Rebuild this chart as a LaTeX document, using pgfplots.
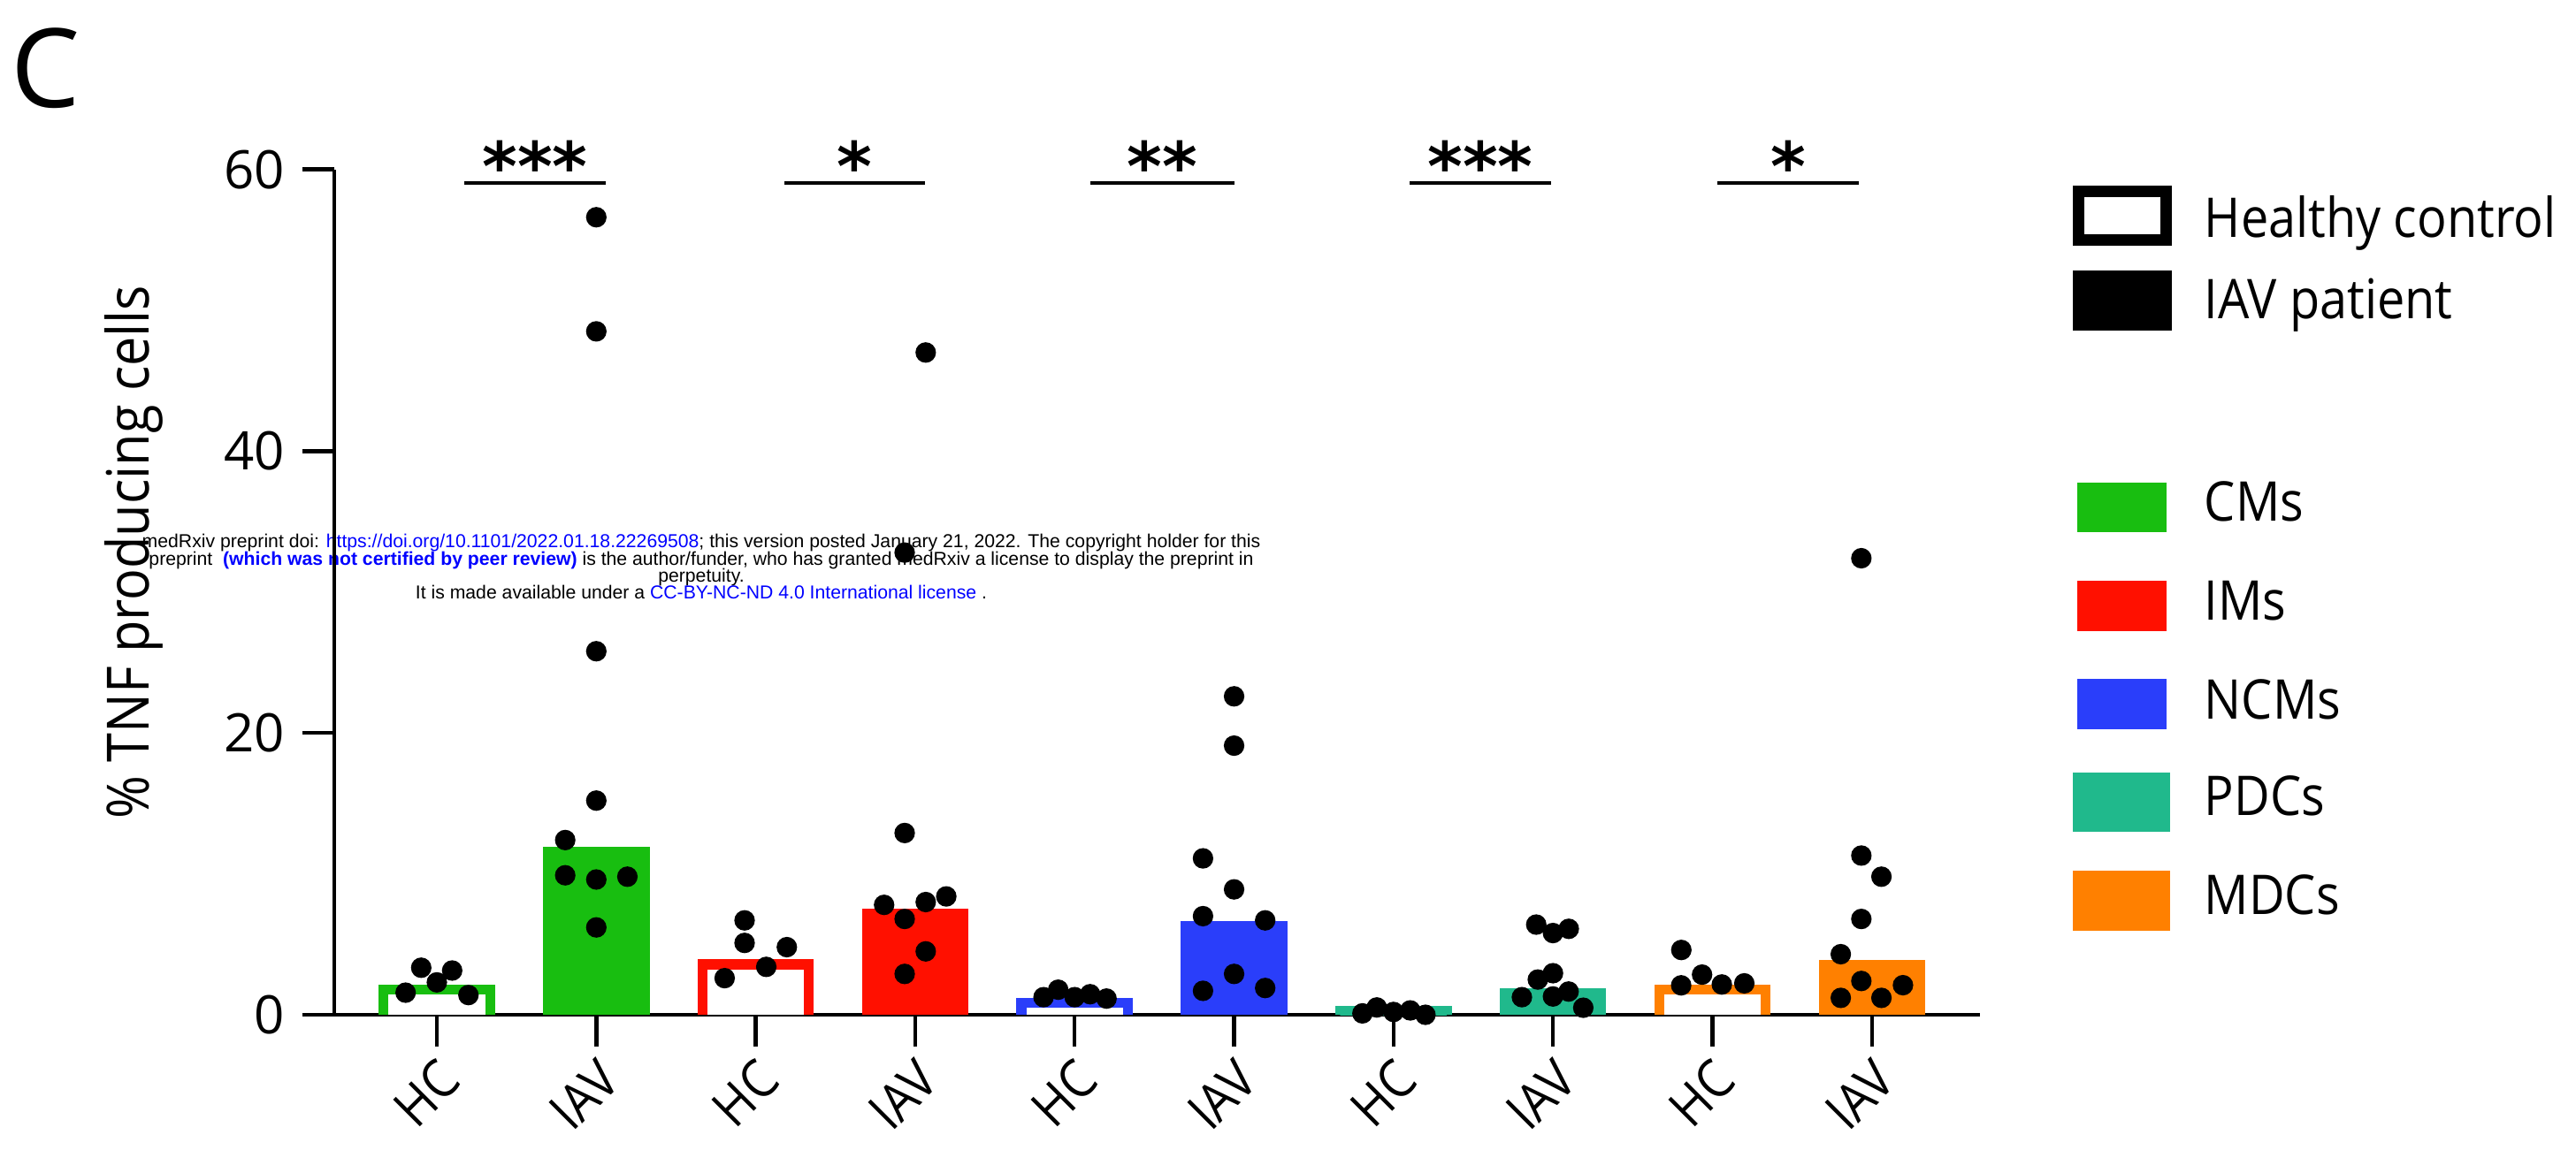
\documentclass[border=0pt]{standalone}
\usepackage{fontspec}
\setmainfont{Open Sans}
\newfontfamily\narrowsans[FakeStretch=0.9]{Open Sans}
\newfontfamily\noticefont{Liberation Sans}
\newfontfamily\starfont{DejaVu Sans}
\usepackage{pgfplots}
\pgfplotsset{compat=1.18}

\definecolor{cmgreen}{RGB}{24,190,16}
\definecolor{imred}{RGB}{255,16,0}
\definecolor{ncmblue}{RGB}{42,62,250}
\definecolor{pdcteal}{RGB}{32,185,140}
\definecolor{mdcorange}{RGB}{255,128,0}
\definecolor{linkblue}{RGB}{0,0,255}

\pgfplotsset{
  % open-bottomed outline bar for healthy controls
  hcbar/.style={draw=#1, fill=white, line width=2.8pt, line join=miter, mark=none},
  iavbar/.style={ybar, bar width=0.668, bar shift=0pt, fill=#1, draw=none},
  dots/.style={only marks, mark=*, mark size=2.7pt, black, mark options={fill=black, draw=black}},
  sig/.style={black, line width=1pt, mark=none},
}

\begin{document}
\begin{tikzpicture}
% page frame: 2913 x 1300 px at 0.25pt per px
\path[use as bounding box] (0,0) rectangle (728.25pt,-325pt);

% preprint notice, drawn first so the plot lies over it
\begin{scope}[x=0.25pt,y=-0.25pt]
  \begin{scope}[every node/.style={anchor=base, inner sep=0pt, font=\noticefont\fontsize{5.3}{6}\selectfont}]
    \node at (793,619) {medRxiv preprint doi: \textcolor{linkblue}{https://doi.org/10.1101/2022.01.18.22269508}; this version posted January 21, 2022. The copyright holder for this};
    \node at (793,639) {preprint \ \textcolor{linkblue}{\bfseries (which was not certified by peer review)} is the author/funder, who has granted medRxiv a license to display the preprint in};
    \node at (793,658) {perpetuity.};
    \node at (793,677) {It is made available under a \textcolor{linkblue}{CC-BY-NC-ND 4.0 International license} .};
  \end{scope}
\end{scope}

\begin{axis}[
  at={(94.5pt,-287pt)}, anchor=south west,
  scale only axis, width=465.25pt, height=239.125pt,
  xmin=-0.6434, xmax=9.678, ymin=0, ymax=60,
  clip=false,
  axis x line*=bottom, axis y line*=left,
  axis line style={line width=1.15pt, black},
  every tick/.style={line width=1.1pt, black},
  tick align=outside,
  major tick length=9pt,
  ytick={0,20,40,60},
  xtick={0,...,9},
  xticklabels={HC,IAV,HC,IAV,HC,IAV,HC,IAV,HC,IAV},
  /pgf/number format/assume math mode=true,
  yticklabel style={font=\fontsize{15}{15}\selectfont, anchor=east, inner sep=0pt, xshift=-4.75pt},
  xticklabel style={font=\narrowsans\fontsize{15}{15}\selectfont, xshift=3.75pt, yshift=-6.5pt, rotate=45, anchor=east, inner sep=0pt},
  ylabel={\% TNF producing cells},
  ylabel style={at={(axis description cs:-0.1128,0.547)}, anchor=base, font=\narrowsans\fontsize{16.5}{16.5}\selectfont},
]
% CMs
\addplot[hcbar=cmgreen] coordinates {(-0.334,0) (-0.334,1.78) (0.334,1.78) (0.334,0)};
\addplot[iavbar=cmgreen] coordinates {(1,11.92)};
% IMs
\addplot[hcbar=imred] coordinates {(1.666,0) (1.666,3.58) (2.334,3.58) (2.334,0)};
\addplot[iavbar=imred] coordinates {(3,7.51)};
% NCMs
\addplot[hcbar=ncmblue] coordinates {(3.666,0) (3.666,0.83) (4.334,0.83) (4.334,0)};
\addplot[iavbar=ncmblue] coordinates {(5,6.63)};
% PDCs
\addplot[hcbar=pdcteal] coordinates {(5.666,0) (5.666,0.27) (6.334,0.27) (6.334,0)};
\addplot[iavbar=pdcteal] coordinates {(7,1.88)};
% MDCs
\addplot[hcbar=mdcorange] coordinates {(7.666,0) (7.666,1.79) (8.334,1.79) (8.334,0)};
\addplot[iavbar=mdcorange] coordinates {(9,3.90)};

% individual donors
\addplot[dots] coordinates {(-0.098,3.34) (0.096,3.14) (0,2.30) (-0.196,1.57) (0.198,1.40)};
\addplot[dots] coordinates {(1,56.6) (1,48.5) (1,25.8) (1,15.2) (0.805,12.4) (0.805,9.9) (1,9.6) (1.195,9.8) (1,6.2)};
\addplot[dots] coordinates {(1.93,6.7) (1.93,5.1) (2.195,4.8) (2.066,3.4) (1.805,2.6)};
\addplot[dots] coordinates {(3.066,47.0) (2.934,32.8) (2.934,12.9) (2.805,7.8) (3.066,8.0) (3.195,8.4) (2.934,6.8) (3.066,4.5) (2.934,2.9)};
\addplot[dots] coordinates {(3.805,1.25) (3.897,1.78) (4,1.25) (4.097,1.46) (4.2,1.15)};
\addplot[dots] coordinates {(5,22.6) (5,19.1) (4.805,11.1) (5,8.9) (4.805,7.0) (5.195,6.7) (5,2.9) (4.805,1.7) (5.195,1.9)};
\addplot[dots] coordinates {(5.805,0.1) (5.895,0.52) (6,0.2) (6.105,0.31) (6.2,0.0)};
\addplot[dots] coordinates {(6.895,6.4) (7,5.8) (7.099,6.1) (6.905,2.5) (7,2.95) (6.805,1.25) (7,1.3) (7.098,1.65) (7.19,0.5)};
\addplot[dots] coordinates {(7.805,4.6) (7.935,2.85) (7.804,2.09) (8.059,2.15) (8.2,2.23)};
\addplot[dots] coordinates {(8.934,32.4) (8.934,11.3) (9.06,9.8) (8.934,6.8) (8.805,4.3) (8.934,2.4) (9.195,2.1) (8.805,1.2) (9.06,1.2)};

% significance brackets
\addplot[sig] coordinates {(0.17,59) (1.06,59)};
\addplot[sig] coordinates {(2.18,59) (3.06,59)};
\addplot[sig] coordinates {(4.10,59) (5.00,59)};
\addplot[sig] coordinates {(6.10,59) (6.99,59)};
\addplot[sig] coordinates {(8.03,59) (8.92,59)};
\begin{scope}[every node/.style={anchor=north, inner sep=0pt, font=\starfont\bfseries\fontsize{19}{19}\selectfont}]
  \node at (axis cs:0.615,62.1) {***};
  \node at (axis cs:2.62,62.1) {*};
  \node at (axis cs:4.55,62.1) {**};
  \node at (axis cs:6.545,62.1) {***};
  \node at (axis cs:8.475,62.1) {*};
\end{scope}
\end{axis}

% panel letter and key, in px units
\begin{scope}[x=0.25pt,y=-0.25pt]
  \node[anchor=north west, inner sep=0pt, font=\fontsize{31}{31}\selectfont] at (12,31) {C};
  \draw[line width=3.25pt] (2350.5,216.5) rectangle (2449.5,271);
  \fill[black] (2344,306) rectangle (2456,374);
  \fill[cmgreen] (2349,546) rectangle (2450,602);
  \fill[imred] (2349,657) rectangle (2450,714);
  \fill[ncmblue] (2349,768) rectangle (2450,825);
  \fill[pdcteal] (2344,874) rectangle (2454,941);
  \fill[mdcorange] (2344,985) rectangle (2454,1053);
  \begin{scope}[every node/.style={anchor=base west, inner sep=0pt, font=\narrowsans\fontsize{15.5}{15.5}\selectfont}]
    \node at (2492,268) {Healthy control};
    \node at (2492,360) {IAV patient};
    \node at (2492,589) {CMs};
    \node at (2492,701) {IMs};
    \node at (2492,813) {NCMs};
    \node at (2492,922) {PDCs};
    \node at (2492,1034) {MDCs};
  \end{scope}
\end{scope}
\end{tikzpicture}
\end{document}
